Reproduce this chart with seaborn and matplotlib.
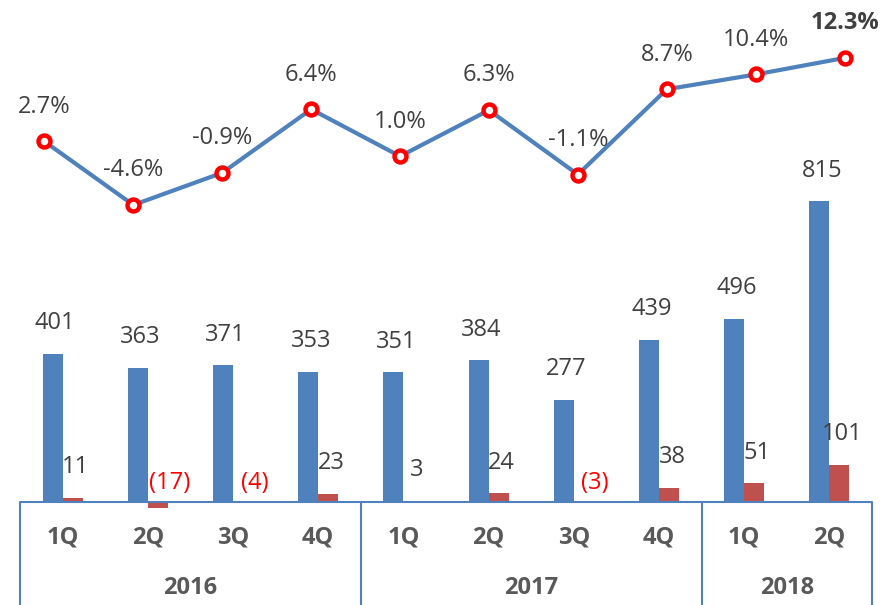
import numpy as np
import pandas as pd
import seaborn as sns
import matplotlib.pyplot as plt
import matplotlib.transforms as mtransforms

# данные
quarters = ['1Q', '2Q', '3Q', '4Q', '1Q', '2Q', '3Q', '4Q', '1Q', '2Q']
years = ['2016', '2017', '2018']
year_spans = [(-0.5, 3.5), (3.5, 7.5), (7.5, 9.5)]
revenue = [401, 363, 371, 353, 351, 384, 277, 439, 496, 815]
profit = [11, -17, -4, 23, 3, 24, -3, 38, 51, 101]
margin = [2.7, -4.6, -0.9, 6.4, 1.0, 6.3, -1.1, 8.7, 10.4, 12.3]

BLUE = '#4F81BD'
RED = '#C0504D'
TEXT = '#404040'

sns.set_theme(style='white')
plt.rcParams['font.family'] = ['Open Sans', 'DejaVu Sans']

W, H = 894, 605
fig = plt.figure(figsize=(W / 100, H / 100), dpi=100)

# оси для столбцов
ax = fig.add_axes([20 / W, 103 / H, 852 / W, 502 / H])
n = len(revenue)
df = pd.DataFrame({
    'pos': list(range(n)) * 2,
    'value': revenue + profit,
    'series': ['revenue'] * n + ['profit'] * n,
})
sns.barplot(data=df, x='pos', y='value', hue='series', hue_order=['revenue', 'profit'],
            palette=[BLUE, RED], saturation=1, width=0.47, linewidth=0, legend=False, ax=ax)
for p in ax.patches:
    p.set_clip_on(False)

ax.set_xlim(-0.5, n - 0.5)
ax.set_ylim(0, 1360)
ax.set_yticks([])
ax.set_xlabel('')
ax.set_ylabel('')
for s in ax.spines.values():
    s.set_visible(False)

# подписи столбцов
for i, v in enumerate(revenue):
    ax.annotate(str(v), (i - 0.12, v), xytext=(2, 22), textcoords='offset points',
                ha='center', va='center', fontsize=17, color=TEXT)
for i, v in enumerate(profit):
    if v >= 0:
        ax.annotate(str(v), (i + 0.12, v), xytext=(2, 22), textcoords='offset points',
                    ha='center', va='center', fontsize=17, color=TEXT)
    else:
        ax.annotate('(%d)' % -v, (i + 0.12, 0), xytext=(8, 14), textcoords='offset points',
                    ha='center', va='center', fontsize=17, color='#FF0000')

# рамка с кварталами и годами
ax.axhline(0, color=BLUE, lw=1.5, clip_on=False)
ax.vlines([-0.5, 3.5, 7.5, 9.5], -320, 0, color=BLUE, lw=1.5, clip_on=False)
ax.set_xticks(range(n))
ax.set_xticklabels(quarters, fontsize=17, fontweight='bold', color='#595959')
ax.tick_params(axis='x', length=0, pad=17)
trans = mtransforms.blended_transform_factory(ax.transData, fig.transFigure)
for name, (a, b) in zip(years, year_spans):
    ax.text((a + b) / 2, 1 - 588 / H, name, transform=trans, ha='center', va='center',
            fontsize=17, fontweight='bold', color='#595959')

# линия рентабельности
ax2 = fig.add_axes([0, 103 / H, 889 / W, 502 / H])
ax2.patch.set_alpha(0)
sns.lineplot(x=list(range(n)), y=margin, ax=ax2, color=BLUE, linewidth=3, marker='o',
             markersize=8.6, markerfacecolor='white', markeredgecolor='#FF0000',
             markeredgewidth=3.2)
ax2.set_xlim(-0.5, n - 0.5)
ax2.set_ylim(-38.74, 18.96)
ax2.set_xticks([])
ax2.set_yticks([])
for s in ax2.spines.values():
    s.set_visible(False)
for i, v in enumerate(margin):
    ax2.annotate('%.1f%%' % v, (i, v), xytext=(0, 25), textcoords='offset points',
                 ha='center', va='center', fontsize=17, color=TEXT,
                 fontweight='bold' if i == n - 1 else 'normal')

fig.savefig('out.png', dpi=100)
